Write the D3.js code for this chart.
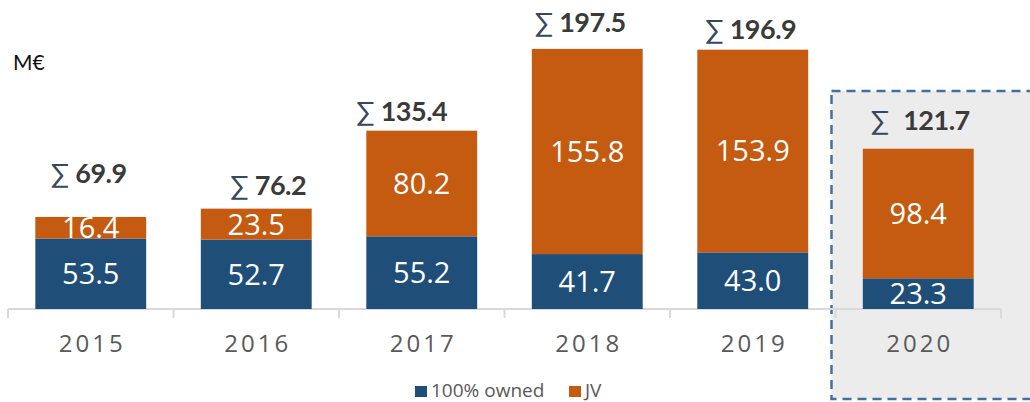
<!DOCTYPE html>
<html>
<head>
<meta charset="utf-8">
<script src="https://cdn.jsdelivr.net/npm/d3@7"></script>
<style>
  html, body { margin: 0; padding: 0; background: #fff; }
  svg { display: block; }
</style>
</head>
<body>
<svg id="chart" width="1030" height="402"></svg>
<script>
// data
var years = ["2015", "2016", "2017", "2018", "2019", "2020"];
var owned = [53.5, 52.7, 55.2, 41.7, 43.0, 23.3];   // 100% owned
var jv = [16.4, 23.5, 80.2, 155.8, 153.9, 98.4];
var seriesNames = ["100% owned", "JV"];
var highlightYear = "2020";

// label nudges (the source slide placed the sum labels by hand)
var sumLift = [34, 14, 10, 17, 11, 19];
var sumShift = [-2, 12, -20, -7, -2, 2];

var width = 1030,
    height = 402,
    baseY = 309,
    blue = "#1f4e79",
    orange = "#c55a11";

var svg = d3.select("#chart");

var x = d3.scaleBand()
  .domain(years)
  .range([8, 1001])
  .paddingInner(0.33)
  .paddingOuter(0.165);

var y = d3.scaleLinear()
  .domain([0, 200])
  .range([baseY, baseY - 263.4]);

var rows = years.map(function(yr, i) {
  return { year: yr, owned: owned[i], jv: jv[i], i: i };
});

var stack = d3.stack().keys(["owned", "jv"]);
var layers = stack(rows);
var color = d3.scaleOrdinal().domain(["owned", "jv"]).range([blue, orange]);

// highlight box behind 2020
var hx = x(highlightYear) - x.step() * x.paddingInner() / 2 - 4;
svg.append("rect")
  .attr("x", hx)
  .attr("y", 91)
  .attr("width", width - hx + 10)
  .attr("height", 308)
  .attr("fill", "#ececec")
  .attr("stroke", "#41719c")
  .attr("stroke-width", 2.5)
  .attr("stroke-dasharray", "9,6");

// unit label
svg.append("text")
  .attr("x", 13)
  .attr("y", 70)
  .attr("font-family", "Lato, 'Open Sans', sans-serif")
  .attr("font-size", 21)
  .attr("fill", "#111")
  .text("M€");

// axis line + boundary ticks
var axisG = svg.append("g").attr("class", "axis");
axisG.append("line")
  .attr("x1", x.range()[0]).attr("x2", x.range()[1])
  .attr("y1", baseY).attr("y2", baseY)
  .attr("stroke", "#d9d9d9").attr("stroke-width", 2);

var bounds = d3.range(years.length + 1).map(function(i) { return x.range()[0] + i * x.step(); });
axisG.selectAll("line.tick")
  .data(bounds)
  .enter().append("line")
  .attr("class", "tick")
  .attr("x1", function(d) { return d; }).attr("x2", function(d) { return d; })
  .attr("y1", baseY).attr("y2", baseY + 9)
  .attr("stroke", "#d9d9d9").attr("stroke-width", 2);

var xAxis = d3.axisBottom(x).tickSize(0).tickPadding(26);
var labelsG = svg.append("g")
  .attr("transform", "translate(0," + baseY + ")")
  .call(xAxis);
labelsG.select(".domain").remove();
labelsG.selectAll("text")
  .attr("font-family", "'Open Sans', sans-serif")
  .attr("font-size", 24)
  .attr("letter-spacing", 3)
  .attr("dx", 1.5)
  .attr("fill", "#595959");

// stacked bars
var layerG = svg.selectAll("g.layer")
  .data(layers)
  .enter().append("g")
  .attr("class", "layer")
  .attr("fill", function(d) { return color(d.key); });

layerG.selectAll("rect")
  .data(function(d) { return d; })
  .enter().append("rect")
  .attr("x", function(d) { return x(d.data.year); })
  .attr("y", function(d) { return y(d[1]); })
  .attr("width", x.bandwidth())
  .attr("height", function(d) { return y(d[0]) - y(d[1]); });

// values inside segments
layerG.selectAll("text")
  .data(function(d) { return d; })
  .enter().append("text")
  .attr("x", function(d) { return x(d.data.year) + x.bandwidth() / 2; })
  .attr("y", function(d) { return (y(d[0]) + y(d[1])) / 2; })
  .attr("dy", "0.36em")
  .attr("text-anchor", "middle")
  .attr("font-family", "'Open Sans', sans-serif")
  .attr("font-size", 29)
  .attr("fill", "#fff")
  .text(function(d) { return (d[1] - d[0]).toFixed(1); });

// sum labels
var sums = svg.append("g").selectAll("text")
  .data(rows)
  .enter().append("text")
  .attr("x", function(d) { return x(d.year) + x.bandwidth() / 2 + sumShift[d.i]; })
  .attr("y", function(d) { return y(d.owned + d.jv) - sumLift[d.i]; })
  .attr("text-anchor", "middle")
  .attr("font-family", "Lato, sans-serif")
  .attr("font-size", 27);

sums.append("tspan")
  .attr("fill", "#344860")
  .attr("font-weight", 400)
  .text("∑");
sums.append("tspan")
  .attr("dx", function(d) { return d.year === highlightYear ? 14 : 6; })
  .attr("fill", "#3a3a3a")
  .attr("font-weight", 700)
  .attr("letter-spacing", -0.5)
  .text(function(d) { return (Math.round((d.owned + d.jv) * 10) / 10).toFixed(1); });

// legend
var legend = svg.append("g").attr("transform", "translate(415,385)");
var legendX = [0, 154];
var li = legend.selectAll("g")
  .data(seriesNames)
  .enter().append("g")
  .attr("transform", function(d, i) { return "translate(" + legendX[i] + ",0)"; });
li.append("rect")
  .attr("y", 1)
  .attr("width", 12).attr("height", 11)
  .attr("fill", function(d, i) { return [blue, orange][i]; });
li.append("text")
  .attr("x", 16)
  .attr("y", 12)
  .attr("font-family", "'Open Sans', sans-serif")
  .attr("font-size", 19)
  .attr("fill", "#595959")
  .text(function(d) { return d; });
</script>
</body>
</html>
